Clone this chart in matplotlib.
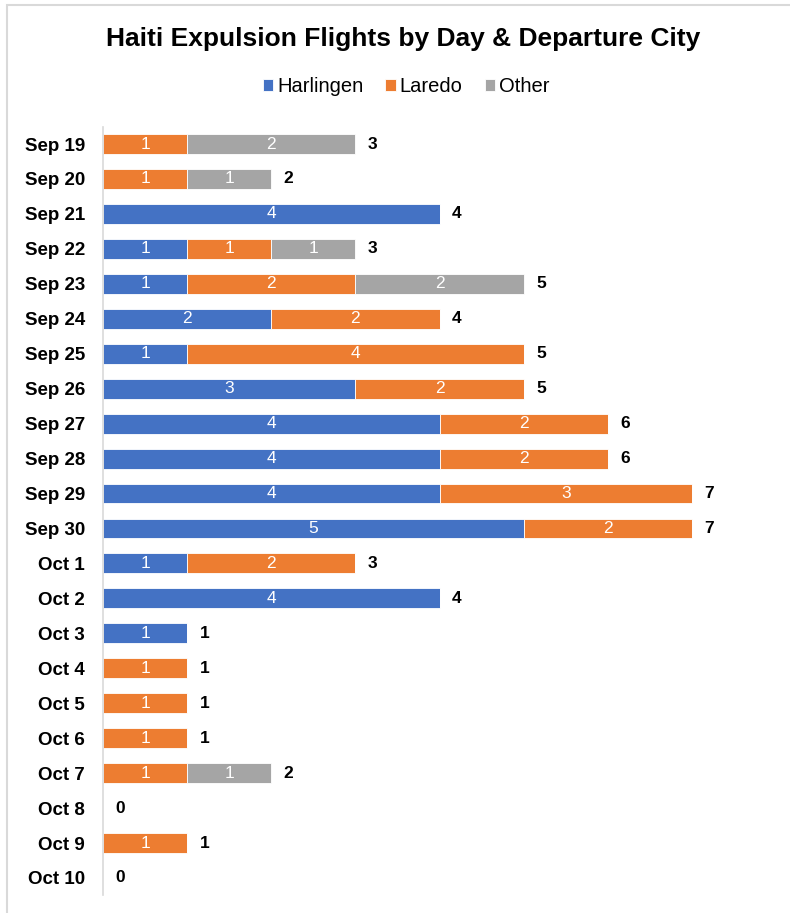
import numpy as np
from matplotlib import pyplot as plt
from matplotlib.patches import Rectangle

days = ["Sep 19", "Sep 20", "Sep 21", "Sep 22", "Sep 23", "Sep 24", "Sep 25",
        "Sep 26", "Sep 27", "Sep 28", "Sep 29", "Sep 30", "Oct 1", "Oct 2",
        "Oct 3", "Oct 4", "Oct 5", "Oct 6", "Oct 7", "Oct 8", "Oct 9", "Oct 10"]
harlingen = [0, 0, 4, 1, 1, 2, 1, 3, 4, 4, 4, 5, 1, 4, 1, 0, 0, 0, 0, 0, 0, 0]
laredo = [1, 1, 0, 1, 2, 2, 4, 2, 2, 2, 3, 2, 2, 0, 0, 1, 1, 1, 1, 0, 1, 0]
other = [2, 1, 0, 1, 2, 0, 0, 0, 0, 0, 0, 0, 0, 0, 0, 0, 0, 0, 1, 0, 0, 0]

series = [("Harlingen", harlingen, "#4472C4"),
          ("Laredo", laredo, "#ED7D31"),
          ("Other", other, "#A5A5A5")]

plt.rcParams['font.family'] = ['Liberation Sans', 'DejaVu Sans']

fig = plt.figure(figsize=(7.9, 9.13), dpi=100)
ax = fig.add_axes([0.1304, 0.0192, 0.852, 0.8422])

y = np.arange(len(days))
left = np.zeros(len(days))
for name, vals, col in series:
    vals = np.array(vals)
    bars = ax.barh(y, vals, left=left, height=0.57, color=col, label=name,
                   edgecolor="white", linewidth=0.6)
    for b, v in zip(bars, vals):
        if v > 0:
            ax.text(b.get_x() + b.get_width() / 2, b.get_y() + b.get_height() / 2,
                    str(v), color="white", fontsize=12.5, ha="center", va="center")
    left = left + vals

for yi, tot in zip(y, left):
    ax.annotate(str(int(tot)), (tot, yi), xytext=(9, 0), textcoords="offset points",
                ha="left", va="center", fontsize=12.5, fontweight="bold")

ax.set_xlim(0, 8)
ax.set_ylim(len(days) - 0.5, -0.5)
ax.set_yticks(y)
ax.set_yticklabels(days, fontsize=13.5, fontweight="bold")
ax.set_xticks([])
ax.tick_params(axis="y", length=0, pad=13)
for s in ["top", "right", "bottom"]:
    ax.spines[s].set_visible(False)
ax.spines["left"].set_color("#D9D9D9")
ax.spines["left"].set_linewidth(1.2)

fig.text(0.51, 0.957, "Haiti Expulsion Flights by Day & Departure City",
         ha="center", va="center", fontsize=19, fontweight="bold")
fig.legend(loc="center", bbox_to_anchor=(0.514, 0.905), ncol=3, frameon=False,
           fontsize=14.5, handlelength=0.5, handleheight=0.5, handletextpad=0.2,
           columnspacing=1.1)

fig.patches.append(Rectangle((7 / 790, -0.1), 1.2, 1.1 - 5 / 913, transform=fig.transFigure,
                             fill=False, edgecolor="#D9D9D9", linewidth=1.5))

fig.savefig("out.png", dpi=100)
